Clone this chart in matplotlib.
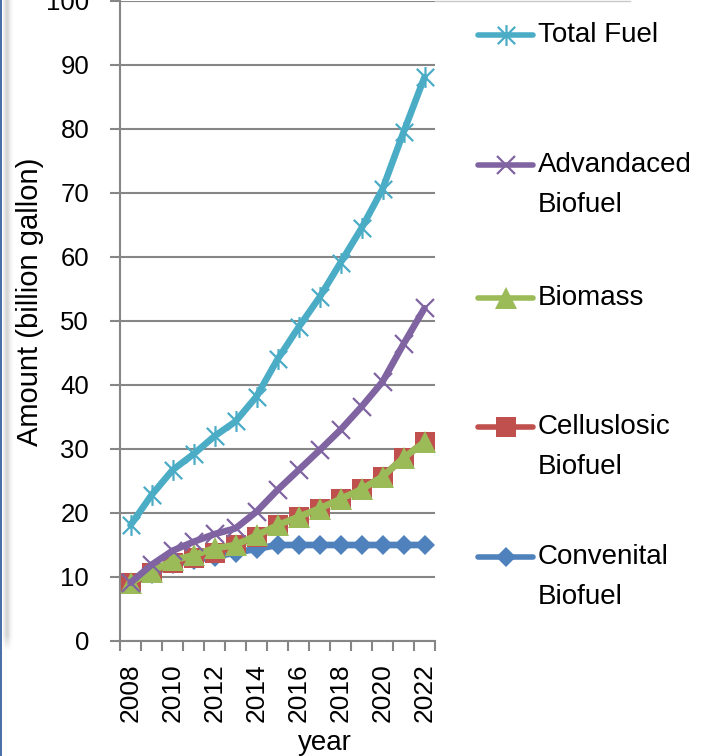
import numpy as np
import matplotlib
matplotlib.use("Agg")
import matplotlib.pyplot as plt
from matplotlib.path import Path
from matplotlib.patches import Rectangle

years = [2008, 2009, 2010, 2011, 2012, 2013, 2014, 2015, 2016, 2017, 2018, 2019, 2020, 2021, 2022]
total_fuel = [18.1, 22.8, 26.7, 29.2, 32.0, 34.3, 38.2, 44.0, 49.0, 53.7, 59.1, 64.5, 70.6, 79.5, 88.1]
advanced = [9.1, 11.9, 14.1, 15.5, 16.7, 17.6, 20.2, 23.6, 26.7, 29.8, 33.0, 36.6, 40.5, 46.4, 52.0]
biomass = [9.1, 10.8, 12.6, 13.4, 14.5, 15.0, 16.5, 18.1, 19.4, 20.7, 22.2, 23.7, 25.7, 28.6, 31.1]
cellulosic = [9.1, 10.6, 12.2, 13.0, 13.8, 15.0, 16.3, 18.1, 19.4, 20.7, 22.2, 23.7, 25.7, 28.6, 31.1]
conventional = [9.0, 10.5, 12.0, 12.6, 13.2, 13.8, 14.4, 15.0, 15.0, 15.0, 15.0, 15.0, 15.0, 15.0, 15.0]
year_labels = ["2008", "2010", "2012", "2014", "2016", "2018", "2020", "2022"]

FONT = "Liberation Sans"
GRID = "#868686"
W, H = 701, 756

# excel-style star: X plus a vertical bar
star = Path([(-1, -1), (1, 1), (-1, 1), (1, -1), (0, -1.2), (0, 1.2)],
            [Path.MOVETO, Path.LINETO, Path.MOVETO, Path.LINETO, Path.MOVETO, Path.LINETO])

series = [
    ("Convenital\nBiofuel", conventional, "#4F81BD", dict(marker="D", ms=10.5, mew=0)),
    ("Celluslosic\nBiofuel", cellulosic, "#C0504D", dict(marker="s", ms=14.5, mew=0)),
    ("Biomass", biomass, "#9BBB59", dict(marker="^", ms=16, mew=0)),
    ("Advandaced\nBiofuel", advanced, "#8064A2", dict(marker="x", ms=13, mew=1.6)),
    ("Total Fuel", total_fuel, "#4BACC6", dict(marker=star, ms=15, mew=1.6)),
]

fig = plt.figure(figsize=(W / 100, H / 100), dpi=100)
ax = fig.add_axes([120 / W, (H - 641) / H, 315 / W, 640 / H])

for name, vals, col, mk in series:
    ax.plot(years, vals, color=col, lw=4.8, solid_joinstyle="round",
            solid_capstyle="round", mfc=col, mec=col, **mk)

ax.set_xlim(2007.5, 2022.5)
ax.set_ylim(0, 100)
ax.set_yticks(np.arange(0, 101, 10))
ax.yaxis.grid(True, color=GRID, lw=1.5)
ax.set_axisbelow(True)
for s in ["top", "right"]:
    ax.spines[s].set_visible(False)
for s in ["left", "bottom"]:
    ax.spines[s].set_color(GRID)
    ax.spines[s].set_linewidth(1.5)

ax.set_xticks(np.arange(2007.5, 2023, 1.0))
ax.set_xticklabels([])
ax.set_xticks(years[::2], minor=True)
ax.set_xticklabels(year_labels, minor=True, rotation=90, va="top", ha="center",
                   fontfamily=FONT, fontsize=19)
ax.tick_params(axis="x", which="major", length=7.2, width=1.5, color=GRID)
ax.tick_params(axis="x", which="minor", length=0, pad=15.8)
ax.tick_params(axis="y", length=7.2, width=1.5, color=GRID, pad=15, labelsize=18.5)
for t in ax.get_yticklabels():
    t.set_fontfamily(FONT)

fig.text(30 / W, 1 - 302 / H, "Amount (billion gallon)", rotation=90, ha="center",
         va="center", fontfamily=FONT, fontsize=21)
fig.text(325 / W, 1 - 750 / H, "year", ha="center", va="baseline",
         fontfamily=FONT, fontsize=20)

# legend drawn by hand so the key sits on the first text line like Excel does
lax = fig.add_axes([0, 0, 1, 1], zorder=-1)
lax.set_xlim(0, W)
lax.set_ylim(H, 0)
lax.axis("off")
leg_y = {"Total Fuel": 35, "Advandaced\nBiofuel": 165, "Biomass": 298,
         "Celluslosic\nBiofuel": 427, "Convenital\nBiofuel": 557}
for name, vals, col, mk in series:
    y = leg_y[name]
    lax.plot([478, 533], [y, y], color=col, lw=4, solid_capstyle="round")
    lax.plot([505.5], [y], color=col, mfc=col, mec=col, **mk)
    lines = name.split("\n")
    for i, ln in enumerate(lines):
        lax.text(538, y + 40 * i, ln, ha="left", va="center", fontfamily=FONT, fontsize=20)

# frame bits around the chart: blue edge, soft shadow, top line
fig.add_artist(Rectangle((0, 0), 2 / W, 1, transform=fig.transFigure,
                         color="#4A70A8", lw=0))
xs = np.arange(3, 15)
shade = np.exp(-((xs - 6.5) / 3.5) ** 2) * 0.35
img = np.ones((650, len(xs), 4))
img[..., :3] = 0.55
fade = np.clip((650 - np.arange(650)) / 15.0, 0, 1)[:, None]
img[..., 3] = shade[None, :] * fade
fig.figimage(img, xo=3, yo=H - 650, origin="upper", zorder=-2)
fig.add_artist(plt.Line2D([435 / W, 630 / W], [1 - 0.5 / H, 1 - 0.5 / H],
                          transform=fig.transFigure, color="#c8c8c8", lw=1))

fig.savefig("out.png", dpi=100)
